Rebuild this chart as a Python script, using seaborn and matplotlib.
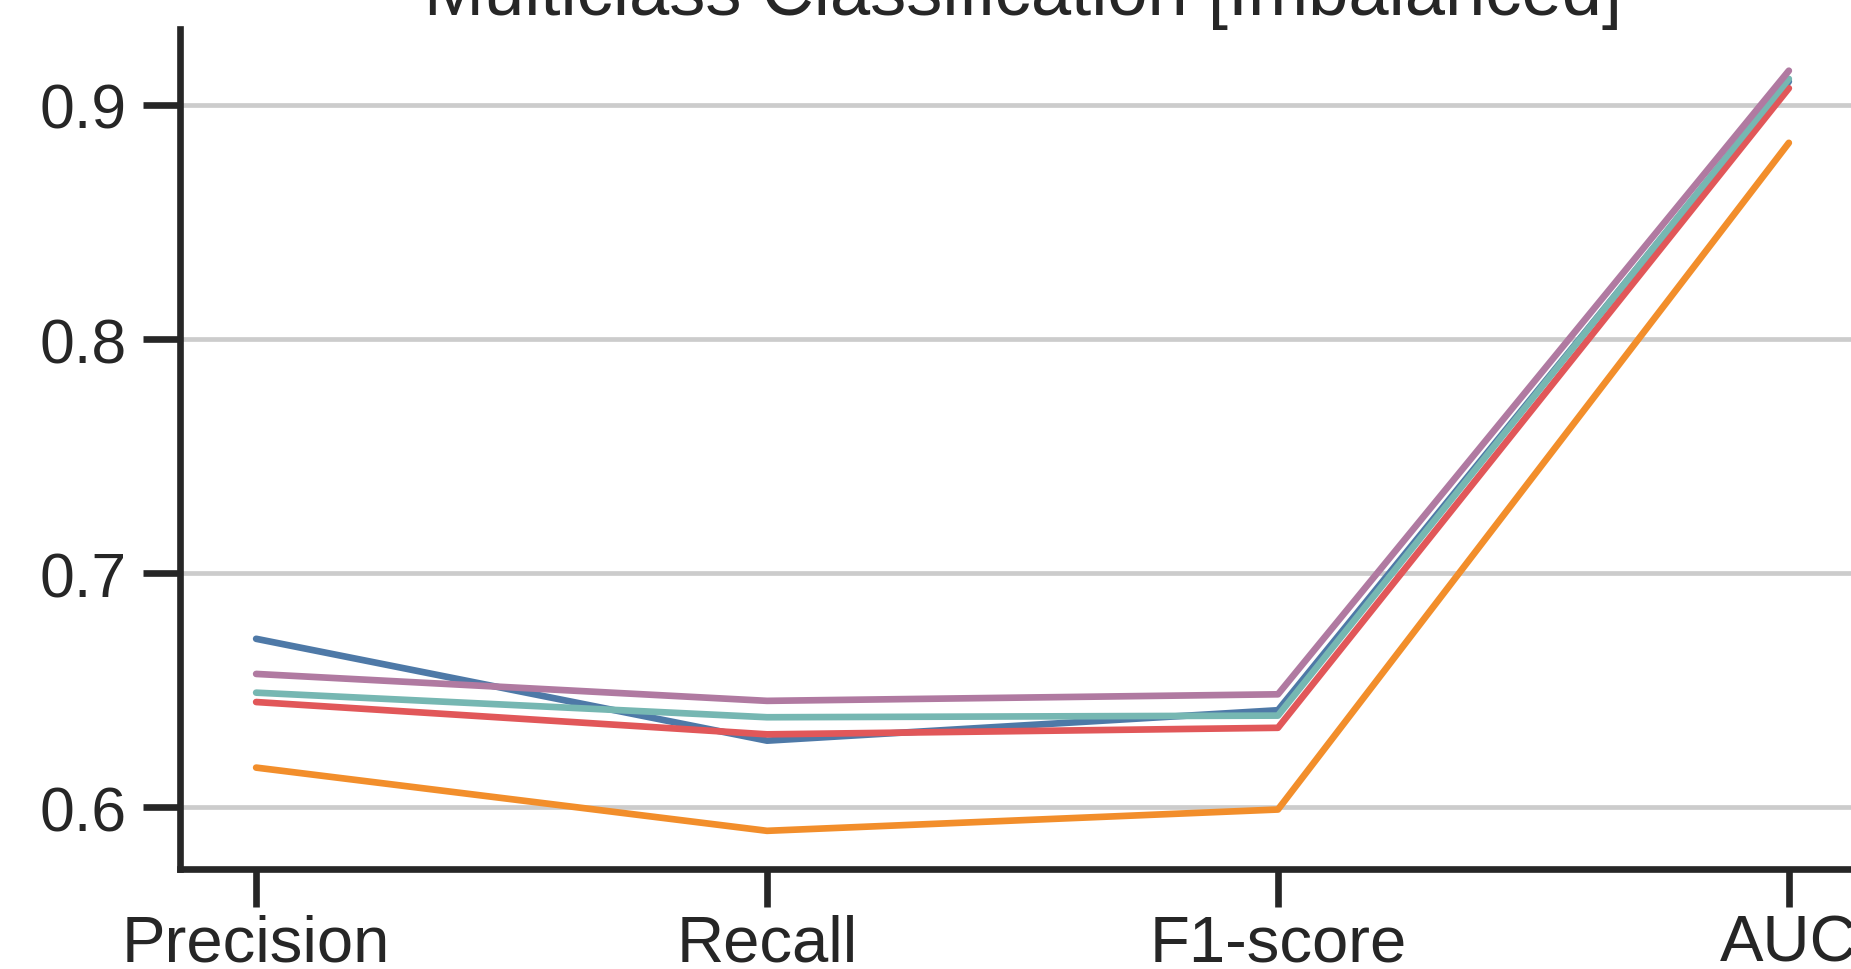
import pandas as pd
import seaborn as sns
import matplotlib.pyplot as plt

metrics = ['Precision', 'Recall', 'F1-score', 'AUC']
models = ['Model 1', 'Model 2', 'Model 3', 'Model 4', 'Model 5']
colors = ['#4e79a7', '#f28e2b', '#e15759', '#76b7b2', '#b07aa1']

scores_m1 = [0.672, 0.6285, 0.6415, 0.910]
scores_m2 = [0.617, 0.5900, 0.5991, 0.8838]
scores_m3 = [0.645, 0.6312, 0.6340, 0.9071]
scores_m4 = [0.649, 0.6385, 0.6392, 0.9111]
scores_m5 = [0.657, 0.6455, 0.6483, 0.9146]

all_scores = [scores_m1, scores_m2, scores_m3, scores_m4, scores_m5]
rows = []
for model, scores in zip(models, all_scores):
    for metric, val in zip(metrics, scores):
        rows.append({'metric': metric, 'score': val, 'model': model})
df = pd.DataFrame(rows)

sns.set_theme(style="ticks")
plt.rcParams['font.family'] = ['Liberation Sans', 'DejaVu Sans']
plt.rcParams['text.color'] = '#262626'

fig = plt.figure(figsize=(18.51, 9.70), dpi=100)
# axes runs past the right, top and bottom edges like in the cropped original
ax = fig.add_axes([179.5 / 1851, 100 / 970, 1686 / 1851, 840 / 970])

sns.lineplot(data=df, x='metric', y='score', hue='model', palette=colors,
             sort=False, linewidth=4.8, legend=False, ax=ax,
             solid_capstyle='round', solid_joinstyle='round')

ax.set_xlim(-0.15, 3.15)
ax.set_ylim(0.5737, 0.9324)
ax.set_yticks([0.6, 0.7, 0.8, 0.9])
ax.yaxis.grid(True, color='#cccccc', linewidth=3.4)
ax.set_axisbelow(True)

sns.despine(ax=ax)
for side in ['left', 'bottom']:
    ax.spines[side].set_linewidth(4.8)
    ax.spines[side].set_color('#262626')

ax.tick_params(axis='both', length=27, width=4.8, color='#262626',
               labelcolor='#262626')
ax.tick_params(axis='y', pad=11, labelsize=45)
ax.tick_params(axis='x', pad=5, labelsize=47)

ax.set_xlabel('')
ax.set_ylabel('')
ax.set_title('Multiclass Classification [Imbalanced]', fontsize=52, pad=1,
             color='#262626')

plt.savefig('out.png', dpi=100)
